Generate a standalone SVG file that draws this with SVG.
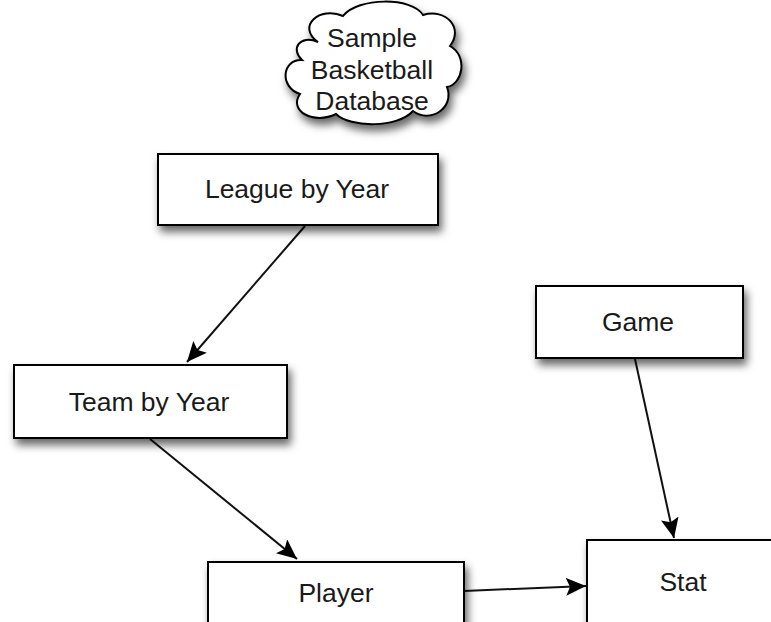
<svg xmlns="http://www.w3.org/2000/svg" width="771" height="622" viewBox="0 0 771 622">
<style>
.box{fill:#fff;stroke:#000;stroke-width:2;filter:url(#sh)}
.lbl{font-family:"Liberation Sans",Arial,sans-serif;font-size:26.5px;fill:#1a1a1a;text-anchor:middle;dominant-baseline:central}
.edge{stroke:#111;stroke-width:2;fill:none;marker-end:url(#arr)}
</style>
<defs>
<filter id="sh" x="-20%" y="-30%" width="150%" height="180%">
<feDropShadow dx="3" dy="6" stdDeviation="4" flood-color="#000" flood-opacity="0.6"/>
</filter>
<marker id="arr" markerUnits="userSpaceOnUse" markerWidth="22" markerHeight="18" refX="20" refY="9" orient="auto">
<path d="M0,0 L20,9 L0,18 L4,9 Z" fill="#000"/>
</marker>
</defs>
<g id="connectors">
<line class="edge" x1="305" y1="226" x2="187" y2="362"/>
<line class="edge" x1="150" y1="439" x2="297" y2="559"/>
<line class="edge" x1="464" y1="591" x2="586" y2="586"/>
<line class="edge" x1="635" y1="359" x2="674" y2="538"/>
</g>
<g id="cloud">
<path class="box" d="M318,42 C296,26 320,6 343,16 C358,-3 412,-3 423,15 C446,8 464,28 450,46 C468,56 463,84 447,87 C455,108 430,124 413,111 C398,128 350,128 336,114 C314,125 288,111 300,94 C279,87 282,59 302,60 C290,49 300,34 318,42 Z"/>
<text class="lbl" x="372" y="38">Sample</text>
<text class="lbl" x="372" y="70">Basketball</text>
<text class="lbl" x="372" y="101">Database</text>
</g>
<g id="league">
<rect class="box" x="158" y="154" width="280" height="71"/>
<text class="lbl" x="297" y="189">League by Year</text>
</g>
<g id="team">
<rect class="box" x="14" y="365" width="273" height="73"/>
<text class="lbl" x="149" y="402">Team by Year</text>
</g>
<g id="game">
<rect class="box" x="536" y="286" width="207" height="72"/>
<text class="lbl" x="638" y="322">Game</text>
</g>
<g id="player">
<rect class="box" x="208" y="562" width="256" height="80"/>
<text class="lbl" x="336" y="593">Player</text>
</g>
<g id="stat">
<rect class="box" x="587" y="540" width="200" height="100"/>
<text class="lbl" x="683" y="582">Stat</text>
</g>
</svg>
